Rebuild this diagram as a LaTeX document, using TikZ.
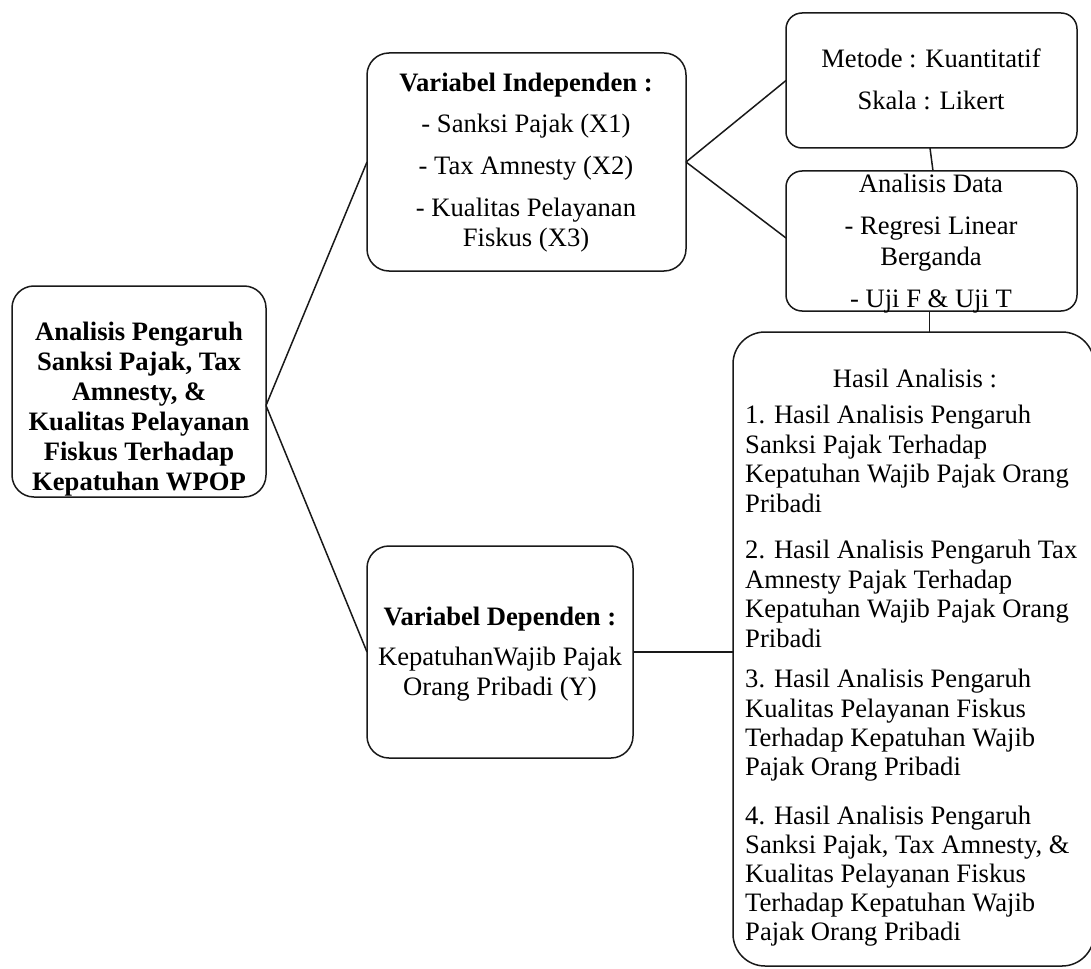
\documentclass[tikz,border=0pt]{standalone}
\usepackage{fontspec}
\setmainfont{Liberation Serif}
\begin{document}
\begin{tikzpicture}[x=1pt,y=-1pt,
  box/.style={draw=black!90, line width=1.5pt, fill=none, inner sep=0pt, outer sep=0pt},
  conn/.style={draw=black!90, line width=1.5pt},
  txt/.style={anchor=base, inner sep=0pt, font=\fontsize{26.6}{30}\selectfont},
  txtl/.style={txt, anchor=base west},
  btxt/.style={txt, font=\fontsize{26.6}{30}\selectfont\bfseries}]
\useasboundingbox (0,0) rectangle (1091,968);
\clip (0,0) rectangle (1091,968);
% boxes
\node[box, rounded corners=22pt, minimum width=254pt, minimum height=211pt] (A) at (139,391.5) {};
\node[box, rounded corners=22pt, minimum width=319pt, minimum height=218pt] (B) at (526.5,162) {};
\node[box, rounded corners=16pt, minimum width=291pt, minimum height=135pt] (C) at (931.5,80.5) {};
\node[box, rounded corners=16pt, minimum width=291pt, minimum height=140pt] (D) at (931.5,241) {};
\node[box, rounded corners=22pt, minimum width=266pt, minimum height=212pt] (F) at (500,652) {};
\node[box, rounded corners=32pt, minimum width=361pt, minimum height=634pt] (E) at (913.5,649) {};
% connectors
\draw[conn] ([yshift=-14pt]A.east) -- (B.west);
\draw[conn] ([yshift=-14pt]A.east) -- (F.west);
\draw[conn] (B.east) -- (C.west);
\draw[conn] (B.east) -- ([yshift=3pt]D.west);
\draw[conn] ([xshift=-1.5pt]C.south) -- ([xshift=1.5pt]D.north);
\draw[conn] ([xshift=-2pt]D.south) -- ([xshift=-2pt]D.south |- E.north);
\draw[conn] (F.east) -- (F.east -| E.west);
% texts A
\node[btxt] (a1) at (139,340) {Analisis Pengaruh};
\node[btxt] (a2) at (139,370) {Sanksi Pajak, Tax};
\node[btxt] (a3) at (139,400) {Amnesty, \&};
\node[btxt] (a4) at (139,430) {Kualitas Pelayanan};
\node[btxt] (a5) at (139,460) {Fiskus Terhadap};
\node[btxt] (a6) at (139,490) {Kepatuhan WPOP};
% texts B
\node[btxt] (b1) at (526,92) {Variabel Independen :};
\node[txt] (b2) at (526,133) {- Sanksi Pajak (X1)};
\node[txt] (b3) at (526,175) {- Tax Amnesty (X2)};
\node[txt] (b4) at (526,217) {- Kualitas Pelayanan};
\node[txt] (b5) at (526,247) {Fiskus (X3)};
% texts C
\node[txt] (c1) at (931,68) {Metode : Kuantitatif};
\node[txt] (c2) at (931,110) {Skala : Likert};
% texts D
\node[txt] (d1) at (931,193) {Analisis Data};
\node[txt] (d2) at (931,235) {- Regresi Linear};
\node[txt] (d3) at (931,265) {Berganda};
\node[txt] (d4) at (931,307) {- Uji F \& Uji T};
% texts F
\node[btxt] (f1) at (500,625) {Variabel Dependen :};
\node[txt] (f2) at (500,665) {KepatuhanWajib Pajak};
\node[txt] (f3) at (500,695) {Orang Pribadi (Y)};
% texts E
\node[txt] (e0) at (915,387) {Hasil Analisis :};
\node[txtl] (e11) at (745,423) {1. Hasil Analisis Pengaruh};
\node[txtl] (e12) at (745,453) {Sanksi Pajak Terhadap};
\node[txtl] (e13) at (745,482) {Kepatuhan Wajib Pajak Orang};
\node[txtl] (e14) at (745,512) {Pribadi};
\node[txtl] (e21) at (745,558) {2. Hasil Analisis Pengaruh Tax};
\node[txtl] (e22) at (745,588) {Amnesty Pajak Terhadap};
\node[txtl] (e23) at (745,617) {Kepatuhan Wajib Pajak Orang};
\node[txtl] (e24) at (745,647) {Pribadi};
\node[txtl] (e31) at (745,687) {3. Hasil Analisis Pengaruh};
\node[txtl] (e32) at (745,717) {Kualitas Pelayanan Fiskus};
\node[txtl] (e33) at (745,746) {Terhadap Kepatuhan Wajib};
\node[txtl] (e34) at (745,775) {Pajak Orang Pribadi};
\node[txtl] (e41) at (745,824) {4. Hasil Analisis Pengaruh};
\node[txtl] (e42) at (745,853) {Sanksi Pajak, Tax Amnesty, \&};
\node[txtl] (e43) at (745,882) {Kualitas Pelayanan Fiskus};
\node[txtl] (e44) at (745,911) {Terhadap Kepatuhan Wajib};
\node[txtl] (e45) at (745,940) {Pajak Orang Pribadi};
\end{tikzpicture}
\end{document}
